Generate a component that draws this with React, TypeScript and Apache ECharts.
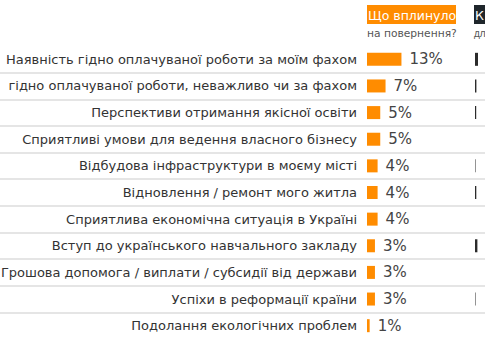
import React, { useEffect, useRef } from "react";
import * as echarts from "echarts";

const categories = [
  "Наявність гідно оплачуваної роботи за моїм фахом",
  "гідно оплачуваної роботи, неважливо чи за фахом",
  "Перспективи отримання якісної освіти",
  "Сприятливі умови для ведення власного бізнесу",
  "Відбудова інфраструктури в моєму місті",
  "Відновлення / ремонт мого житла",
  "Сприятлива економічна ситуація в Україні",
  "Вступ до українського навчального закладу",
  "Грошова допомога / виплати / субсидії від держави",
  "Успіхи в реформації країни",
  "Подолання екологічних проблем",
];
const returnValues = [13, 7, 5, 5, 4, 4, 4, 3, 3, 3, 1];
const secondValues = [3, 1.4, 1.2, 0, 0.5, 1.3, 0, 2.4, 0, 0.5, 0];
const header1 = "Що вплинуло";
const sub1 = "на повернення?";
const header2 = "К";
const sub2 = "дл";

const FONT = "DejaVu Sans";

export default function App() {
  const ref = useRef<HTMLDivElement>(null);
  useEffect(() => {
    if (!ref.current) return;
    const chart = echarts.init(ref.current, null, { renderer: "svg" });
    const top = 46;
    const bottom = 21;
    chart.setOption({
      animation: false,
      backgroundColor: "#ffffff",
      grid: [
        { left: 0, right: 0, top, bottom, outerBoundsMode: "none", containLabel: false },
        { left: 367, width: 106, top, bottom, outerBoundsMode: "none", containLabel: false },
        { left: 475, width: 10, top, bottom, outerBoundsMode: "none", containLabel: false },
      ],
      xAxis: [
        { gridIndex: 0, type: "value", show: false, min: 0, max: 1 },
        { gridIndex: 1, type: "value", show: false, min: 0, max: 40 },
        { gridIndex: 2, type: "value", show: false, min: 0, max: 10 },
      ],
      yAxis: [
        {
          gridIndex: 0,
          type: "category",
          inverse: true,
          data: categories,
          axisLine: { show: false },
          axisTick: { show: false },
          axisLabel: { show: false },
          splitLine: {
            show: true,
            showMinLine: false,
            showMaxLine: false,
            lineStyle: { color: "#dcdcdc", width: 1.5 },
          },
        },
        {
          gridIndex: 1,
          type: "category",
          inverse: true,
          data: categories,
          axisLine: { show: false },
          axisTick: { show: false },
          splitLine: { show: false },
          axisLabel: {
            margin: 10,
            fontFamily: FONT,
            fontSize: 13,
            color: "#333333",
          },
        },
        {
          gridIndex: 2,
          type: "category",
          inverse: true,
          data: categories,
          show: false,
        },
      ],
      series: [
        {
          type: "bar",
          xAxisIndex: 1,
          yAxisIndex: 1,
          data: returnValues,
          barWidth: 13,
          itemStyle: { color: "#ff8c00" },
          label: {
            show: true,
            position: "right",
            distance: 8,
            formatter: "{c}%",
            fontFamily: FONT,
            fontSize: 15,
            color: "#444444",
          },
        },
        {
          type: "bar",
          xAxisIndex: 2,
          yAxisIndex: 2,
          data: secondValues,
          barWidth: 13,
          itemStyle: { color: "#2b2b2b" },
        },
      ],
      graphic: [
        {
          type: "rect",
          shape: { x: 367, y: 5, width: 89, height: 19 },
          style: { fill: "#ff8c00" },
        },
        {
          type: "text",
          x: 368,
          y: 15,
          style: {
            text: header1,
            fill: "#ffffff",
            font: `12.5px "${FONT}"`,
            verticalAlign: "middle",
          },
        },
        {
          type: "text",
          x: 367,
          y: 33,
          style: {
            text: sub1,
            fill: "#555555",
            font: `10.7px "${FONT}"`,
            verticalAlign: "middle",
          },
        },
        {
          type: "rect",
          shape: { x: 474, y: 5, width: 12, height: 19 },
          style: { fill: "#1f262b" },
        },
        {
          type: "text",
          x: 475,
          y: 15,
          style: {
            text: header2,
            fill: "#ffffff",
            font: `12.5px "${FONT}"`,
            verticalAlign: "middle",
          },
        },
        {
          type: "text",
          x: 474,
          y: 33,
          style: {
            text: sub2,
            fill: "#555555",
            font: `10px "Liberation Sans"`,
            verticalAlign: "middle",
          },
        },
      ],
    });
    return () => chart.dispose();
  }, []);
  return (
    <div
      ref={ref}
      style={{ position: "fixed", left: 0, top: 0, width: 485, height: 360 }}
    />
  );
}
